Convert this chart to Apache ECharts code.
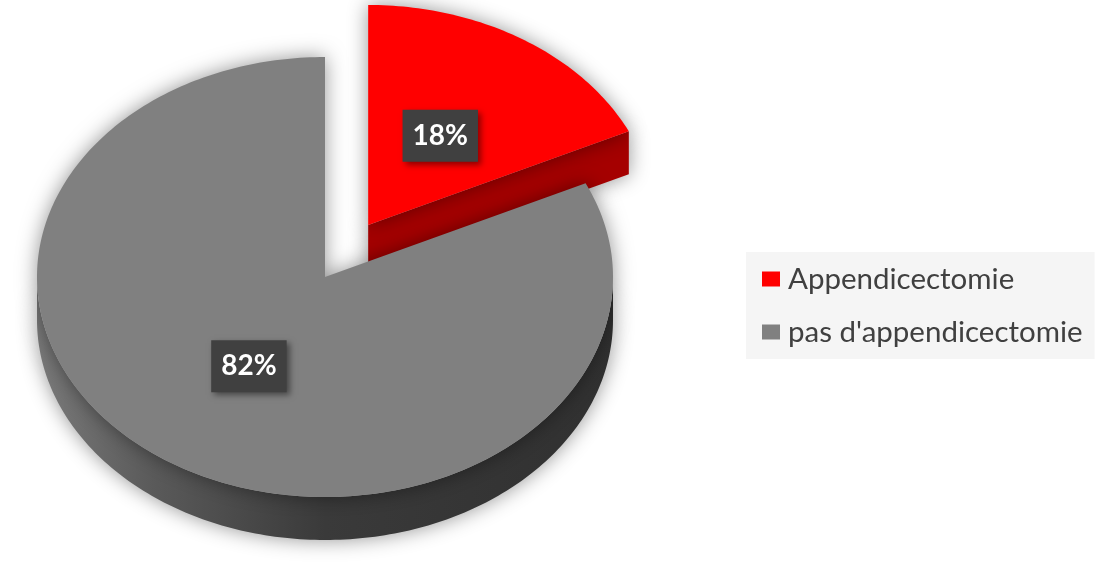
<!DOCTYPE html>
<html>
<head>
<meta charset="utf-8">
<script src="https://cdn.jsdelivr.net/npm/echarts@6/dist/echarts.min.js"></script>
<style>
  html, body { margin: 0; padding: 0; background: #ffffff; }
  #chart { width: 1096px; height: 566px; }
</style>
</head>
<body>
<div id="chart"></div>
<script>
// Data
const categories = ['Appendicectomie', "pas d'appendicectomie"];
const values = [18, 82];

// Layout and style of the tilted 3D pie
const PIE = { cx: 325, cy: 277, rx: 288, ry: 220, depth: 43 };
const explodeRatio = [0.28, 0];
const topColors = ['#ff0000', '#808080'];
const sideColors = [
  '#a50000',
  new echarts.graphic.LinearGradient(PIE.cx - PIE.rx, 0, PIE.cx + PIE.rx, 0, [
    { offset: 0, color: '#7a7a7a' },
    { offset: 0.2, color: '#5a5a5a' },
    { offset: 0.5, color: '#3a3a3a' },
    { offset: 1, color: '#303030' }
  ], true)
];
const FONT = 'Lato, "Open Sans", sans-serif';

const total = values.reduce((a, b) => a + b, 0);

// point on the ellipse rim (angle in degrees, clockwise from 12 o'clock)
function rimPoint(cx, cy, deg, r) {
  const a = deg * Math.PI / 180;
  const k = r == null ? 1 : r;
  return [cx + PIE.rx * k * Math.sin(a), cy - PIE.ry * k * Math.cos(a)];
}

function arcPoints(cx, cy, a0, a1) {
  const n = Math.max(2, Math.ceil(Math.abs(a1 - a0)));
  const pts = [];
  for (let j = 0; j <= n; j++) pts.push(rimPoint(cx, cy, a0 + (a1 - a0) * j / n));
  return pts;
}

function makeRenderer(i) {
  return function (params, api) {
    const v = api.value(0), before = api.value(1), sum = api.value(2);
    const s = before / sum * 360;
    const e = (before + v) / sum * 360;
    const mid = (s + e) / 2;
    const m = mid * Math.PI / 180;
    const cx = PIE.cx + PIE.rx * explodeRatio[i] * Math.sin(m);
    const cy = PIE.cy - PIE.ry * explodeRatio[i] * Math.cos(m);
    const d = PIE.depth;
    const shadow = { shadowBlur: 20, shadowColor: 'rgba(0,0,0,0.42)' };
    const children = [];

    // front part of the outer wall
    const w0 = Math.max(s, 90), w1 = Math.min(e, 270);
    if (w1 > w0) {
      const upper = arcPoints(cx, cy, w0, w1);
      const lower = upper.map(p => [p[0], p[1] + d]).reverse();
      children.push({
        type: 'polygon',
        shape: { points: upper.concat(lower) },
        style: Object.assign({ fill: sideColors[i] }, shadow)
      });
    }
    // radial cut faces turned towards the viewer
    const cut = (deg) => {
      const p = rimPoint(cx, cy, deg);
      children.push({
        type: 'polygon',
        shape: { points: [[cx, cy], p, [p[0], p[1] + d], [cx, cy + d]] },
        style: Object.assign({ fill: sideColors[i] }, shadow)
      });
    };
    if (Math.sin(e * Math.PI / 180) > 1e-6) cut(e);
    if (Math.sin(s * Math.PI / 180) < -1e-6) cut(s);

    // top face
    children.push({
      type: 'polygon',
      shape: { points: [[cx, cy]].concat(arcPoints(cx, cy, s, e)) },
      style: Object.assign({ fill: topColors[i] }, shadow)
    });

    // percentage label
    const lp = rimPoint(cx, cy, mid, 0.48);
    children.push({
      type: 'text',
      x: lp[0] - 2, y: lp[1],
      z2: 10,
      style: {
        text: Math.round(v / sum * 100) + '%',
        fill: '#ffffff',
        font: 'bold 28px ' + FONT,
        align: 'center',
        verticalAlign: 'middle',
        lineHeight: 28,
        backgroundColor: '#404040',
        padding: [12, 10, 12, 10],
        shadowBlur: 6,
        shadowOffsetX: 3,
        shadowOffsetY: 3,
        shadowColor: 'rgba(0,0,0,0.45)'
      }
    });
    return { type: 'group', children: children };
  };
}

let running = 0;
const series = categories.map((name, i) => {
  const item = { name: name, value: [values[i], running, total] };
  running += values[i];
  return {
    type: 'custom',
    name: name,
    coordinateSystem: 'none',
    silent: true,
    animation: false,
    itemStyle: { color: topColors[i] },
    renderItem: makeRenderer(i),
    data: [item]
  };
});

const chart = echarts.init(document.getElementById('chart'), null, { renderer: 'canvas' });
chart.setOption({
  backgroundColor: '#ffffff',
  animation: false,
  legend: {
    data: categories,
    orient: 'vertical',
    left: 746,
    top: 252,
    icon: 'rect',
    itemWidth: 18,
    itemHeight: 15,
    itemGap: 23,
    padding: [12, 12, 12, 16],
    backgroundColor: '#f5f5f5',
    selectedMode: false,
    textStyle: {
      fontFamily: FONT,
      fontSize: 29.5,
      lineHeight: 30,
      color: '#404040',
      padding: [0, 0, 0, 3]
    }
  },
  series: series
});
</script>
</body>
</html>
